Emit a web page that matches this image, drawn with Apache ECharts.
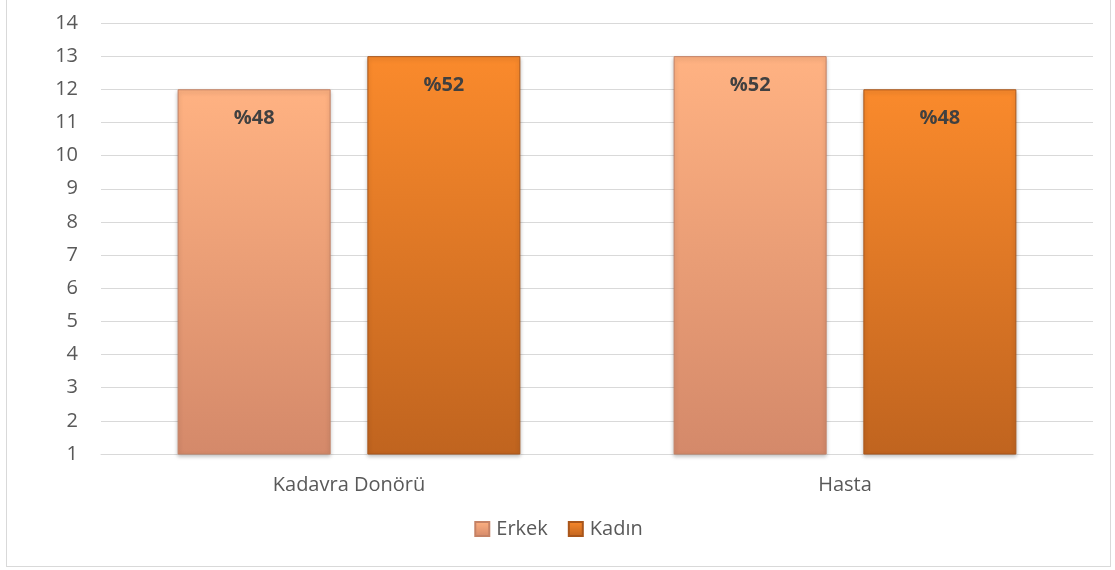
<!DOCTYPE html>
<html>
<head>
<meta charset="utf-8">
<script src="https://cdn.jsdelivr.net/npm/echarts@6/dist/echarts.min.js"></script>
<style>
  html, body { margin: 0; padding: 0; background: #fff; }
  #chart { position: absolute; left: 6px; top: -1px; width: 1103px; height: 566px; border: 1px solid #d9d9d9; }
</style>
</head>
<body>
<div id="chart"></div>
<script>
const categories = ["Kadavra Donörü", "Hasta"];
const erkek = [12, 13];
const kadin = [13, 12];
const erkekLabels = ["%48", "%52"];
const kadinLabels = ["%52", "%48"];

const chart = echarts.init(document.getElementById("chart"));

// dikey degrade renkler
const erkekColor = new echarts.graphic.LinearGradient(0, 0, 0, 1, [
  { offset: 0, color: "#ffb282" },
  { offset: 1, color: "#d4896a" },
]);
const kadinColor = new echarts.graphic.LinearGradient(0, 0, 0, 1, [
  { offset: 0, color: "#fa8a2c" },
  { offset: 1, color: "#c0641f" },
]);

const options = {
  animation: false,
  textStyle: { fontFamily: "Open Sans" },
  grid: {
    left: 94,
    right: 17,
    top: 23,
    bottom: 112,
  },
  legend: {
    top: 514,
    left: "center",
    icon: "rect",
    itemWidth: 14,
    itemHeight: 14,
    itemGap: 20,
    textStyle: { color: "#595959", fontSize: 20, fontFamily: "Open Sans", padding: [0, 0, 0, 2] },
    data: ["Erkek", "Kadın"],
  },
  xAxis: {
    type: "category",
    data: categories,
    axisLine: { show: true, lineStyle: { color: "#d9d9d9", width: 1 } },
    axisTick: { show: false },
    axisLabel: { color: "#595959", fontSize: 20, margin: 21 },
  },
  yAxis: {
    type: "value",
    min: 1,
    max: 14,
    interval: 1,
    axisLine: { show: false },
    axisTick: { show: false },
    axisLabel: { color: "#595959", fontSize: 20, margin: 23 },
    splitLine: { lineStyle: { color: "#d9d9d9", width: 1 } },
  },
  series: [
    {
      name: "Erkek",
      type: "bar",
      barWidth: 153,
      barGap: "24%",
      data: erkek,
      itemStyle: {
        color: erkekColor,
        borderColor: "#c58265",
        borderWidth: 1,
        shadowColor: "rgba(0,0,0,0.25)",
        shadowBlur: 4,
        shadowOffsetY: 2,
      },
      label: {
        show: true,
        position: "insideTop",
        distance: 19,
        fontSize: 20,
        fontWeight: "bold",
        color: "#404040",
        formatter: (p) => erkekLabels[p.dataIndex],
      },
    },
    {
      name: "Kadın",
      type: "bar",
      barWidth: 153,
      data: kadin,
      itemStyle: {
        color: kadinColor,
        borderColor: "#a9561b",
        borderWidth: 1,
        shadowColor: "rgba(0,0,0,0.25)",
        shadowBlur: 4,
        shadowOffsetY: 2,
      },
      label: {
        show: true,
        position: "insideTop",
        distance: 19,
        fontSize: 20,
        fontWeight: "bold",
        color: "#404040",
        formatter: (p) => kadinLabels[p.dataIndex],
      },
    },
  ],
};

chart.setOption(options);

window.addEventListener("resize", () => {
  chart.resize();
});
</script>
</body>
</html>
